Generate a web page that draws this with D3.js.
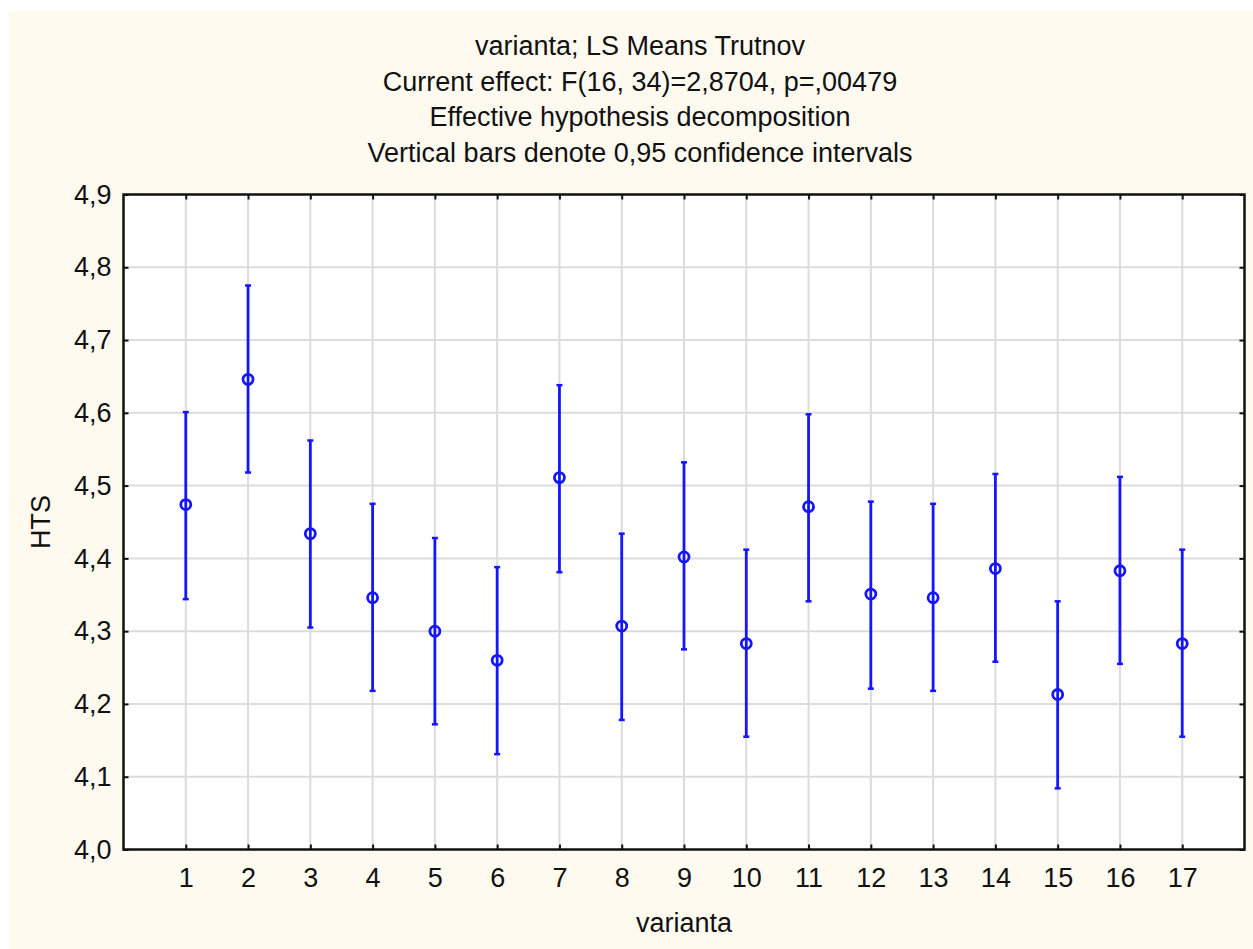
<!DOCTYPE html>
<html><head><meta charset="utf-8">
<script src="https://cdn.jsdelivr.net/npm/d3@7"></script>
<style>html,body{margin:0;padding:0;background:#fff;}svg{display:block;font-family:"Liberation Sans",Arial,sans-serif;}</style>
</head><body>
<svg id="chart" width="1253" height="949"></svg>
<script>
const categories = [1,2,3,4,5,6,7,8,9,10,11,12,13,14,15,16,17];
const means = [4.474,4.646,4.434,4.346,4.300,4.260,4.511,4.307,4.402,4.283,4.471,4.351,4.346,4.386,4.213,4.383,4.283];
const lower = [4.344,4.518,4.305,4.218,4.172,4.131,4.381,4.178,4.275,4.155,4.341,4.221,4.218,4.258,4.084,4.255,4.155];
const upper = [4.601,4.775,4.562,4.475,4.428,4.388,4.638,4.434,4.532,4.412,4.598,4.478,4.475,4.516,4.341,4.512,4.412];
const yTicks = [4.0,4.1,4.2,4.3,4.4,4.5,4.6,4.7,4.8,4.9];
const titleLines = ["varianta; LS Means Trutnov","Current effect: F(16, 34)=2,8704, p=,00479","Effective hypothesis decomposition","Vertical bars denote 0,95 confidence intervals"];

const svg = d3.select("#chart");
const L=123.5, R=1244.5, T=194.5, B=849.5;
const x = d3.scaleLinear().domain([0,18]).range([L,R]);
const y = d3.scaleLinear().domain([4.0,4.9]).range([B,T]);
const fmt = d => d.toFixed(1).replace(".", ",");
const blue = "#1515ff";

svg.append("rect").attr("x",9).attr("y",11).attr("width",1253-9).attr("height",949-11).attr("fill","#fffaf0");
svg.append("rect").attr("x",L).attr("y",T).attr("width",R-L).attr("height",B-T).attr("fill","#fff");

// grid
svg.append("g").selectAll("line").data(categories).join("line")
  .attr("x1",d=>x(d)).attr("x2",d=>x(d)).attr("y1",T).attr("y2",B)
  .attr("stroke","#dcdcdc").attr("stroke-width",2);
svg.append("g").selectAll("line").data(yTicks.slice(1,-1)).join("line")
  .attr("y1",d=>y(d)).attr("y2",d=>y(d)).attr("x1",L).attr("x2",R)
  .attr("stroke","#dcdcdc").attr("stroke-width",2);

// axes with inward ticks
const axB = d3.axisBottom(x).tickValues(categories).tickSizeInner(-5).tickSizeOuter(0).tickFormat(d=>d).tickPadding(18);
const axT = d3.axisTop(x).tickValues(categories).tickSizeInner(-5).tickSizeOuter(0).tickFormat("");
const axL = d3.axisLeft(y).tickValues(yTicks).tickSizeInner(-5).tickSizeOuter(0).tickFormat(fmt).tickPadding(12);
const axRt = d3.axisRight(y).tickValues(yTicks).tickSizeInner(-5).tickSizeOuter(0).tickFormat("");
function style(g){
  g.select(".domain").remove();
  g.selectAll(".tick line").attr("stroke","#111").attr("stroke-width",2);
  g.selectAll(".tick text").attr("fill","#111").attr("font-size",27).attr("font-family","Liberation Sans, Arial, sans-serif");
}
svg.append("g").attr("transform",`translate(0,${B})`).call(axB).call(style);
svg.append("g").attr("transform",`translate(0,${T})`).call(axT).call(style);
svg.append("g").attr("transform",`translate(${L},0)`).call(axL).call(style);
svg.append("g").attr("transform",`translate(${R},0)`).call(axRt).call(style);

// frame
svg.append("rect").attr("x",L).attr("y",T).attr("width",R-L).attr("height",B-T)
  .attr("fill","none").attr("stroke","#111").attr("stroke-width",2.5);

// error bars
const data = categories.map((c,i)=>({c, m:means[i], lo:lower[i], hi:upper[i]}));
const g = svg.append("g");
g.selectAll(".bar").data(data).join("line")
  .attr("x1",d=>x(d.c)).attr("x2",d=>x(d.c)).attr("y1",d=>y(d.lo)).attr("y2",d=>y(d.hi))
  .attr("stroke",blue).attr("stroke-width",2.8);
g.selectAll(".capt").data(data).join("line")
  .attr("x1",d=>x(d.c)-3).attr("x2",d=>x(d.c)+3).attr("y1",d=>y(d.hi)).attr("y2",d=>y(d.hi))
  .attr("stroke",blue).attr("stroke-width",2.5);
g.selectAll(".capb").data(data).join("line")
  .attr("x1",d=>x(d.c)-3).attr("x2",d=>x(d.c)+3).attr("y1",d=>y(d.lo)).attr("y2",d=>y(d.lo))
  .attr("stroke",blue).attr("stroke-width",2.5);
g.selectAll("circle").data(data).join("circle")
  .attr("cx",d=>x(d.c)).attr("cy",d=>y(d.m)).attr("r",5)
  .attr("fill","none").attr("stroke",blue).attr("stroke-width",2.8);

// titles
svg.append("g").selectAll("text").data(titleLines).join("text")
  .attr("x",(L+R)/2 - 44).attr("y",(d,i)=>55+i*35.7)
  .attr("text-anchor","middle").attr("font-size",27).attr("fill","#111").text(d=>d);

svg.append("text").attr("x",(L+R)/2).attr("y",932).attr("text-anchor","middle")
  .attr("font-size",27).attr("fill","#111").text("varianta");
svg.append("text").attr("transform",`translate(50,${(T+B)/2}) rotate(-90)`).attr("text-anchor","middle")
  .attr("font-size",27).attr("fill","#111").text("HTS");
</script>
</body></html>
